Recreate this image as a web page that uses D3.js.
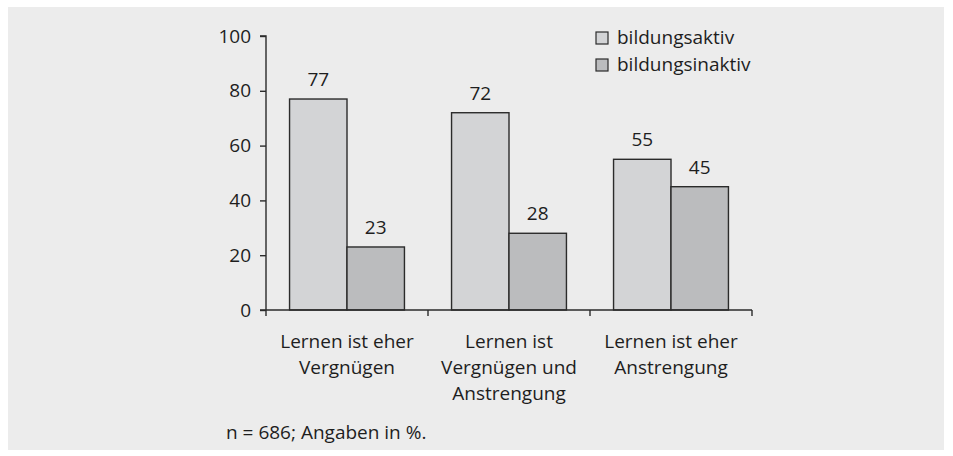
<!DOCTYPE html>
<html>
<head>
<meta charset="utf-8">
<script src="https://cdn.jsdelivr.net/npm/d3@7"></script>
<style>
  body { margin: 0; background: #fff; }
  text { font-family: "Open Sans", sans-serif; fill: #1e1e1e; }
</style>
</head>
<body>
<div id="chart"></div>
<script>
const categories = [
  ["Lernen ist eher", "Vergnügen"],
  ["Lernen ist", "Vergnügen und", "Anstrengung"],
  ["Lernen ist eher", "Anstrengung"]
];
const seriesNames = ["bildungsaktiv", "bildungsinaktiv"];
const aktiv = [77, 72, 55];
const inaktiv = [23, 28, 45];
const yTicks = [0, 20, 40, 60, 80, 100];
const footnote = "n = 686; Angaben in %.";

const width = 953, height = 456;
const colors = ["#d3d4d6", "#bbbcbe"];
const fs = "19px";

const svg = d3.select("#chart").append("svg")
  .attr("width", width)
  .attr("height", height);

// grey panel
svg.append("rect")
  .attr("x", 8).attr("y", 7)
  .attr("width", 936).attr("height", 443)
  .attr("fill", "#ececec");

const x0 = d3.scaleBand()
  .domain(d3.range(categories.length))
  .range([266, 752])
  .padding(0);

const x1 = d3.scaleBand()
  .domain(seriesNames)
  .range([0, x0.bandwidth()])
  .paddingOuter(0.41)
  .paddingInner(0);

const y = d3.scaleLinear()
  .domain([0, 100])
  .range([310, 36]);

const rows = categories.map((c, i) => ({ i, values: [aktiv[i], inaktiv[i]] }));

const groups = svg.append("g")
  .selectAll("g")
  .data(rows)
  .join("g")
  .attr("transform", d => `translate(${x0(d.i)},0)`);

groups.selectAll("rect")
  .data(d => d.values.map((v, k) => ({ key: seriesNames[k], k, v })))
  .join("rect")
  .attr("x", d => x1(d.key))
  .attr("y", d => y(d.v))
  .attr("width", x1.bandwidth())
  .attr("height", d => y(0) - y(d.v))
  .attr("fill", d => colors[d.k])
  .attr("stroke", "#2b2b2b")
  .attr("stroke-width", 1.4);

groups.selectAll("text.val")
  .data(d => d.values.map((v, k) => ({ key: seriesNames[k], k, v })))
  .join("text")
  .attr("class", "val")
  .attr("x", d => x1(d.key) + x1.bandwidth() / 2)
  .attr("y", d => y(d.v) - 13)
  .attr("text-anchor", "middle")
  .style("font-size", fs)
  .text(d => d.v);

// y axis
const yAxis = svg.append("g")
  .attr("transform", "translate(266,0)")
  .call(d3.axisLeft(y).tickValues(yTicks).tickSize(6).tickPadding(9));
yAxis.selectAll("text").style("font-size", fs).attr("fill", "#1e1e1e");
yAxis.selectAll("line, path").attr("stroke", "#2b2b2b").attr("stroke-width", 1.4);
yAxis.select(".domain").attr("d", `M-6,${y(100)}H0V${y(0)}`);

// x axis: line with boundary ticks
const xAxis = svg.append("g");
xAxis.append("line")
  .attr("x1", 260).attr("x2", x0.range()[1])
  .attr("y1", y(0)).attr("y2", y(0))
  .attr("stroke", "#2b2b2b").attr("stroke-width", 1.4);
const bounds = d3.range(categories.length + 1).map(i => i < categories.length ? x0(i) : x0.range()[1]);
xAxis.selectAll("line.tick")
  .data(bounds)
  .join("line")
  .attr("class", "tick")
  .attr("x1", d => d).attr("x2", d => d)
  .attr("y1", y(0)).attr("y2", y(0) + 6)
  .attr("stroke", "#2b2b2b").attr("stroke-width", 1.4);

// category labels
const catLabels = svg.append("g")
  .selectAll("text")
  .data(categories)
  .join("text")
  .attr("text-anchor", "middle")
  .attr("transform", (d, i) => `translate(${x0(i) + x0.bandwidth() / 2},348)`)
  .style("font-size", fs);
catLabels.selectAll("tspan")
  .data(d => d)
  .join("tspan")
  .attr("x", 0)
  .attr("y", (d, j) => j * 26)
  .text(d => d);

// legend
const legend = svg.append("g")
  .attr("transform", "translate(596,32)")
  .selectAll("g")
  .data(seriesNames)
  .join("g")
  .attr("transform", (d, i) => `translate(0,${i * 27})`);
legend.append("rect")
  .attr("width", 12).attr("height", 12)
  .attr("fill", (d, i) => colors[i])
  .attr("stroke", "#2b2b2b").attr("stroke-width", 1.2);
legend.append("text")
  .attr("x", 21).attr("y", 12)
  .style("font-size", fs)
  .text(d => d);

svg.append("text")
  .attr("x", 226).attr("y", 439)
  .style("font-size", fs)
  .text(footnote);
</script>
</body>
</html>
